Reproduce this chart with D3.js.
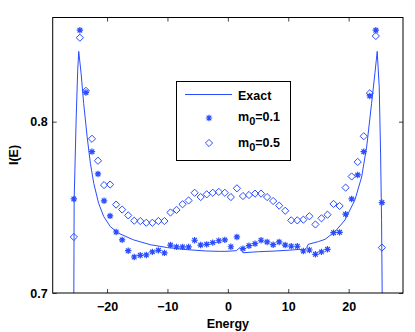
<!DOCTYPE html>
<meta charset="utf-8">
<script src="https://d3js.org/d3.v7.min.js"></script>
<style>
    body { margin: 0; background: #fff; }
    .lbl { font-family: 'Liberation Sans', Arial, sans-serif; font-weight: bold; font-size: 12.5px; fill: #000; }
    .tick text { font-family: 'Liberation Sans', Arial, sans-serif; font-weight: bold; font-size: 12.5px; fill: #000; }
</style>
<div id="chart"></div>
<script>
// sample energies (half-integer grid)
let energies = d3.range(-25.5, 25.6, 1);

// m0 = 0.1 (asterisks)
let starVals = [0.7549, 0.8534, 0.817, 0.7825, 0.7695, 0.7538, 0.745, 0.7356, 0.731, 0.7247,
    0.721, 0.722, 0.7222, 0.724, 0.7249, 0.7234, 0.728, 0.7269, 0.7269, 0.7269,
    0.7308, 0.728, 0.7284, 0.7294, 0.7305, 0.731, 0.727, 0.7327, 0.7259, 0.7276,
    0.7288, 0.7308, 0.7298, 0.7282, 0.7298, 0.728, 0.7273, 0.7273, 0.7245, 0.7251,
    0.7226, 0.724, 0.7255, 0.7352, 0.7354, 0.746, 0.7549, 0.7689, 0.7825, 0.815,
    0.8534, 0.7528];

// m0 = 0.5 (diamonds)
let diamondVals = [0.7327, 0.849, 0.818, 0.790, 0.7772, 0.763, 0.7633, 0.7516, 0.7487, 0.7453,
    0.7422, 0.742, 0.741, 0.741, 0.742, 0.742, 0.747, 0.7485, 0.7518, 0.754,
    0.7585, 0.756, 0.7576, 0.7585, 0.759, 0.7585, 0.756, 0.7611, 0.7566, 0.7572,
    0.758, 0.758, 0.756, 0.7537, 0.751, 0.748, 0.7424, 0.7424, 0.7428, 0.7448,
    0.740, 0.7436, 0.7457, 0.752, 0.7508, 0.7615, 0.768, 0.7765, 0.7915, 0.8166,
    0.850, 0.7265];

// exact curve
let exactE = [-25.6, -25.5, -25.45, -25.12, -24.86, -24.69, -24.3, -23.87, -23.3, -22.76,
    -22.2, -21.4, -20.56, -19.45, -18.08, -16.2, -15.6, -12.84, -10.0, -6.78,
    -3.47, -1.27, -0.45, 1.4, 2.0, 2.5, 5.06, 7.8, 10.6, 11.95,
    12.5, 13.06, 13.3, 15.0, 16.08, 17.74, 19.39, 21.04, 22.15, 22.98,
    23.8, 24.35, 24.73, 25.06, 25.29, 25.45, 25.55, 25.65];
let exactI = [0.68, 0.70, 0.754, 0.801, 0.830, 0.841, 0.8283, 0.8106, 0.7912, 0.7757,
    0.764, 0.7524, 0.7447, 0.7387, 0.7349, 0.7319, 0.731, 0.7282, 0.7265, 0.7253,
    0.7245, 0.7243, 0.7243, 0.7247, 0.7265, 0.7235, 0.7241, 0.7245, 0.7251, 0.7255,
    0.7245, 0.7265, 0.7284, 0.730, 0.7313, 0.7358, 0.7426, 0.7543, 0.7677, 0.7852,
    0.8107, 0.8282, 0.841, 0.8204, 0.7817, 0.7427, 0.7012, 0.68];

let xTicks = [-20, -10, 0, 10, 20];
let yTicks = [0.7, 0.8];
let legendLabels = ["Exact", "0.1", "0.5"];

let blue = "#2a4cff";
let W = 415, H = 332;

let svg = d3.select("#chart").append("svg")
    .attr("width", W)
    .attr("height", H);

let x = d3.scaleLinear().domain([-29, 29]).range([52.7, 403]);
let y = d3.scaleLinear().domain([0.7, 0.8608]).range([293, 17.5]);

let [x0, x1] = x.range();
let [y0, y1] = y.range();

svg.append("rect")
    .attr("x", x0).attr("y", y1)
    .attr("width", x1 - x0).attr("height", y0 - y1)
    .attr("fill", "#fff");

svg.append("clipPath").attr("id", "clip")
    .append("rect")
    .attr("x", x0).attr("y", y1)
    .attr("width", x1 - x0).attr("height", y0 - y1);

// axes (MATLAB style, ticks pointing in, box all round)
let fmt = d => d3.format("")(d).replace("-", "\u2013");
svg.append("g")
    .attr("transform", "translate(0," + y0 + ")")
    .call(d3.axisBottom(x).tickValues(xTicks).tickSizeInner(-4).tickSizeOuter(0).tickPadding(9).tickFormat(fmt))
    .call(g => g.select(".domain").remove());
svg.append("g")
    .attr("transform", "translate(0," + y1 + ")")
    .call(d3.axisTop(x).tickValues(xTicks).tickSizeInner(-4).tickSizeOuter(0).tickFormat(""))
    .call(g => g.select(".domain").remove());
svg.append("g")
    .attr("transform", "translate(" + x0 + ",0)")
    .call(d3.axisLeft(y).tickValues(yTicks).tickSizeInner(-4).tickSizeOuter(0).tickPadding(5).tickFormat(d3.format(".1f")))
    .call(g => g.select(".domain").remove());
svg.append("g")
    .attr("transform", "translate(" + x1 + ",0)")
    .call(d3.axisRight(y).tickValues(yTicks).tickSizeInner(-4).tickSizeOuter(0).tickFormat(""))
    .call(g => g.select(".domain").remove());

svg.selectAll(".tick line").attr("stroke", "#444");

let plot = svg.append("g").attr("clip-path", "url(#clip)");

// exact line
let line = d3.line()
    .x((d, i) => x(exactE[i]))
    .y(d => y(d));
plot.append("path")
    .datum(exactI)
    .attr("d", line)
    .attr("fill", "none")
    .attr("stroke", blue)
    .attr("stroke-width", 1);

// marker shapes
let s = 3.2;
let starPath = "M" + (-s) + ",0H" + s + "M0," + (-s) + "V" + s +
    "M" + (-s * 0.72) + "," + (-s * 0.72) + "L" + (s * 0.72) + "," + (s * 0.72) +
    "M" + (-s * 0.72) + "," + (s * 0.72) + "L" + (s * 0.72) + "," + (-s * 0.72);
let dd = 3.6;
let diamondPath = "M0," + (-dd) + "L" + dd + ",0L0," + dd + "L" + (-dd) + ",0Z";

plot.selectAll(".dia")
    .data(diamondVals)
    .enter().append("path")
    .attr("class", "dia")
    .attr("transform", (d, i) => "translate(" + x(energies[i]) + "," + y(d) + ")")
    .attr("d", diamondPath)
    .attr("fill", "none")
    .attr("stroke", blue)
    .attr("stroke-width", 1);

plot.selectAll(".star")
    .data(starVals)
    .enter().append("path")
    .attr("class", "star")
    .attr("transform", (d, i) => "translate(" + x(energies[i]) + "," + y(d) + ")")
    .attr("d", starPath)
    .attr("fill", "none")
    .attr("stroke", blue)
    .attr("stroke-width", 1.2);

// box
svg.append("rect")
    .attr("x", x0).attr("y", y1)
    .attr("width", x1 - x0).attr("height", y0 - y1)
    .attr("fill", "none")
    .attr("stroke", "#000")
    .attr("stroke-width", 1);

// axis labels
svg.append("text").attr("class", "lbl")
    .attr("x", (x0 + x1) / 2).attr("y", 327.5)
    .attr("text-anchor", "middle")
    .text("Energy");
svg.append("text").attr("class", "lbl")
    .attr("transform", "translate(18,155) rotate(-90)")
    .attr("text-anchor", "middle")
    .text("I(E)");

// legend
let lg = svg.append("g");
lg.append("rect")
    .attr("x", 176.5).attr("y", 81.5)
    .attr("width", 114).attr("height", 79)
    .attr("fill", "#fff")
    .attr("stroke", "#000");
lg.append("line")
    .attr("x1", 185).attr("x2", 232)
    .attr("y1", 94.5).attr("y2", 94.5)
    .attr("stroke", blue);
lg.append("text").attr("class", "lbl")
    .attr("x", 238).attr("y", 99.5)
    .text(legendLabels[0]);
lg.append("path")
    .attr("transform", "translate(209,118)")
    .attr("d", starPath)
    .attr("fill", "none").attr("stroke", blue).attr("stroke-width", 1.2);
lg.append("path")
    .attr("transform", "translate(209,143)")
    .attr("d", diamondPath)
    .attr("fill", "none").attr("stroke", blue);

[[legendLabels[1], 121], [legendLabels[2], 147]].forEach(([v, base]) => {
    let t = lg.append("text").attr("class", "lbl")
        .attr("x", 238).attr("y", base);
    t.append("tspan").text("m");
    t.append("tspan").attr("dy", 4).attr("font-size", "11px").text("0");
    t.append("tspan").attr("dy", -4).text("=" + v);
});
</script>
